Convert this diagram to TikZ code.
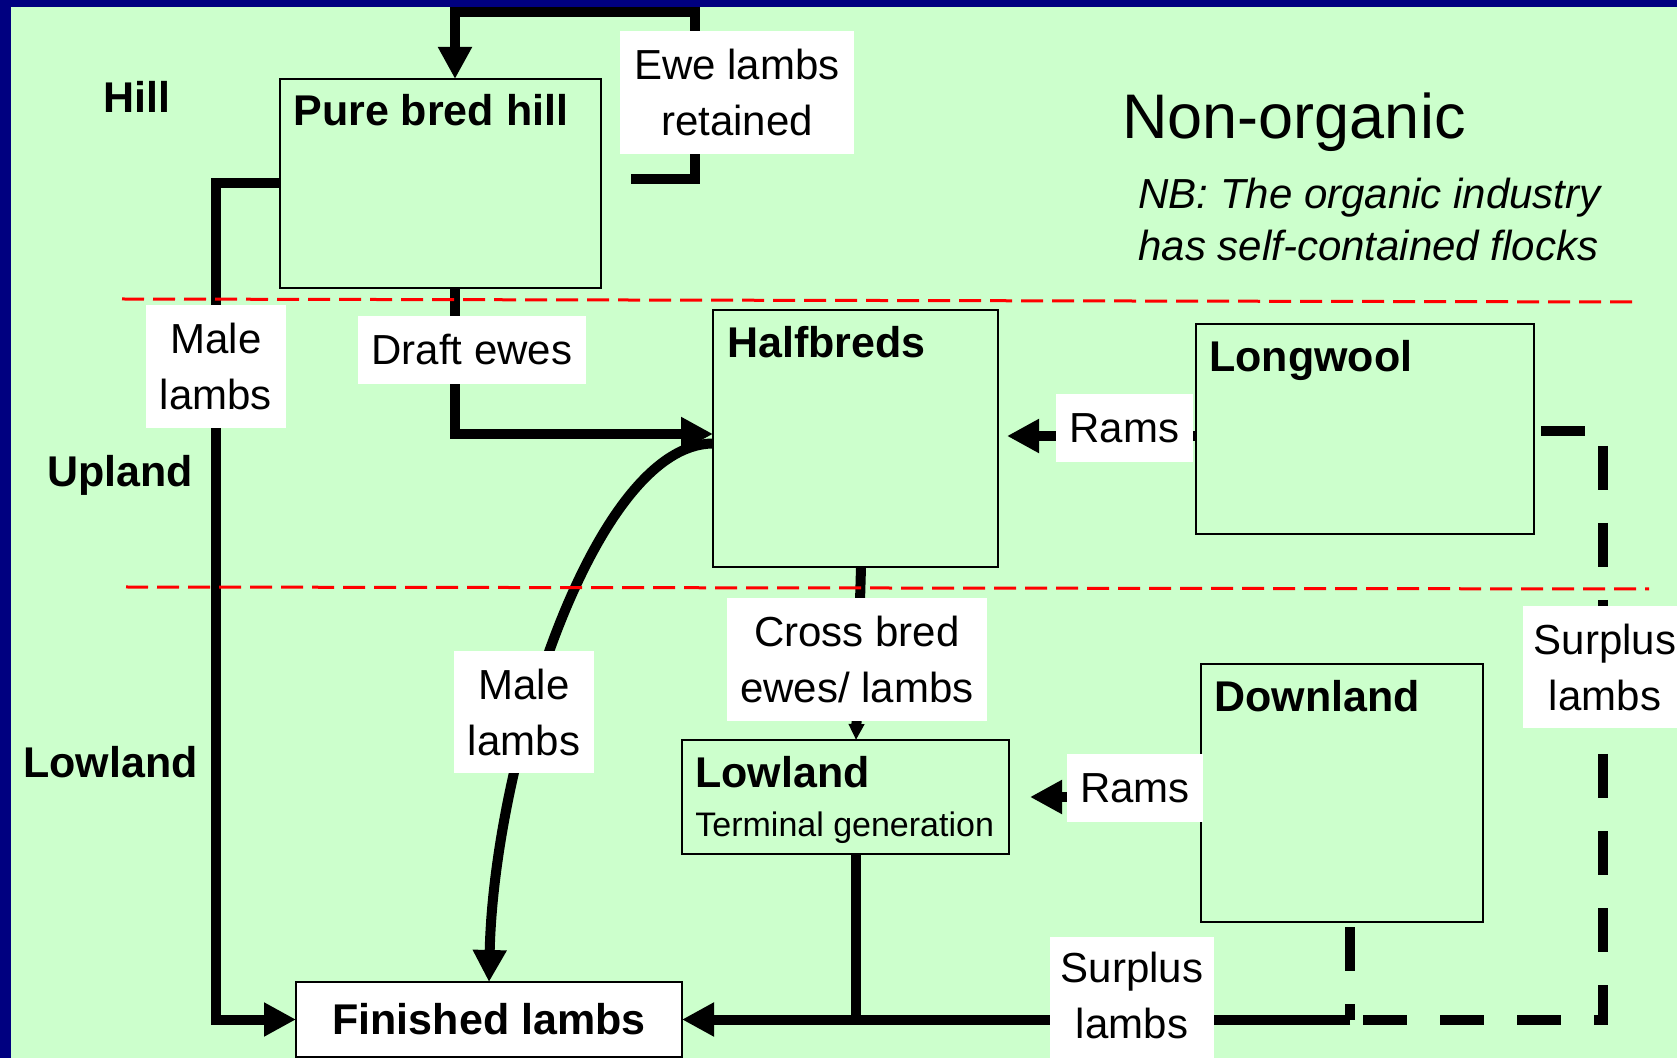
\documentclass[tikz,border=0pt]{standalone}
\usepackage{fontspec}
\setmainfont{Liberation Sans}
\usetikzlibrary{arrows.meta}
\definecolor{navy}{HTML}{000080}
\definecolor{bgreen}{HTML}{CCFFCC}
\tikzset{
 boxnode/.style={draw=black, line width=1.25pt, fill=bgreen, inner sep=0pt, outer sep=0pt, anchor=north west},
 tag/.style={fill=white, inner sep=0pt, outer sep=0pt, anchor=north west, align=center, font=\fontsize{21}{28}\selectfont},
 ttl/.style={anchor=base west, inner sep=0pt, font=\fontsize{21.5}{26}\selectfont\bfseries},
 flow/.style={line width=5pt, -{Triangle[length=16pt,width=16pt]}},
 thickline/.style={line width=5pt},
 dashflow/.style={line width=5pt, dash pattern=on 22pt off 16.5pt},
 zone/.style={draw=red, line width=1.5pt, dash pattern=on 11pt off 4.5pt},
}
\begin{document}
\begin{tikzpicture}[x=0.5pt,y=-0.5pt]
\useasboundingbox (0,0) rectangle (1677,1058);
\clip (0,0) rectangle (1677,1058);
\fill[navy] (0,0) rectangle (1677,1058);
\fill[bgreen] (11,7) rectangle (1677,1058);

% boxes
\node[boxnode, minimum width=160.5pt, minimum height=104.5pt] (hill) at (280,79) {};
\node[boxnode, minimum width=142.5pt, minimum height=128.5pt] (half) at (713,310) {};
\node[boxnode, minimum width=169pt, minimum height=105pt] (long) at (1196,324) {};
\node[boxnode, minimum width=163.5pt, minimum height=57pt] (low) at (682,740) {};
\node[boxnode, minimum width=141pt, minimum height=129pt] (down) at (1201,664) {};
\node[boxnode, fill=white, minimum width=193pt, minimum height=37.5pt, font=\fontsize{21.5}{26}\selectfont\bfseries] (fin) at (296,982) {Finished lambs};

% box titles
\node[ttl] (hillt) at ([shift={(13,47)}]hill.north west) {Pure bred hill};
\node[ttl] (halft) at ([shift={(14,48)}]half.north west) {Halfbreds};
\node[ttl] (longt) at ([shift={(13,48)}]long.north west) {Longwool};
\node[ttl] (lowt) at ([shift={(13,48)}]low.north west) {Lowland};
\node[anchor=base west, inner sep=0pt, font=\fontsize{17}{20}\selectfont] (term) at ([shift={(13,96)}]low.north west) {Terminal generation};
\node[ttl] (downt) at ([shift={(13,48)}]down.north west) {Downland};

% connectors
\coordinate (ewestart) at (631,179);
\draw[flow] (ewestart) -- ++(64,0) -- ++(0,-167) -| ([shift={(175,0)}]hill.north west);
\draw[flow] (hill.west) -| ([shift={(-80,0)}]fin.west) -- (fin.west);
\draw[flow] ([shift={(175,0)}]hill.south west) |- ([shift={(0,-4.5)}]half.west);
\draw[flow] ([shift={(0,5)}]half.west) .. controls (595,444) and (494,760) .. (fin.north);
\draw[line width=5pt, -{Triangle[length=8pt,width=7.5pt]}] ([shift={(5.5,0)}]half.south) -- ([shift={(10.5,0)}]low.north);

\coordinate (junction) at (1350,1019.5);
\coordinate (corner) at (1603,1019.5);
\draw[thickline] ([shift={(10.5,0)}]low.south) -- ([shift={(10.5,0)}]low.south |- fin.east);
\draw[flow] (junction) -- (fin.east);
\draw[dashflow] ([shift={(7,2)}]long.east) -| (corner) -- (junction);
\draw[dashflow] ([shift={(8,5)}]down.south) -- (junction);

\draw[flow] ([shift={(0,7)}]long.west) -- ([shift={(9,-2.5)}]half.east);
\draw[flow] ([shift={(0,4)}]down.west) -- ([shift={(21,0)}]low.east);

% zone boundaries
\draw[zone] (122,299) -- (1633,302);
\draw[zone] (126,587) -- (1649,589);

% labels
\node[tag, minimum width=117pt, minimum height=61.5pt] (ewe) at (620,31) {Ewe lambs\\retained};
\node[tag, minimum width=70pt, minimum height=61.5pt] (male1) at (146,305) {Male\\lambs};
\node[tag, minimum width=114pt, minimum height=34pt] (draft) at (358,316) {Draft ewes};
\node[tag, minimum width=68.5pt, minimum height=34pt] (rams1) at (1056,394) {Rams};
\node[tag, minimum width=70pt, minimum height=61pt] (male2) at (454,651) {Male\\lambs};
\node[tag, minimum width=130pt, minimum height=61.5pt] (cross) at (727,598) {Cross bred\\ewes/ lambs};
\node[tag, minimum width=68pt, minimum height=34pt] (rams2) at (1067,754) {Rams};
\node[tag, minimum width=82pt, minimum height=61pt] (surp1) at (1523,606) {Surplus\\lambs};
\node[tag, minimum width=82pt, minimum height=61.5pt, text depth=3.5pt] (surp2) at (1050,937) {Surplus\\lambs};

% zone names and title
\node[ttl] (hilllab) at (103,113) {Hill};
\node[ttl] (uplab) at (47,487) {Upland};
\node[ttl] (lowlab) at (23,777) {Lowland};
\node[anchor=base west, inner sep=0pt, font=\fontsize{31.5}{38}\selectfont] (title) at (1122,139) {Non-organic};
\node[anchor=base west, inner sep=0pt, font=\fontsize{21}{26}\selectfont\itshape] (nb1) at (1138,209) {NB: The organic industry};
\node[anchor=base west, inner sep=0pt, font=\fontsize{21}{26}\selectfont\itshape] (nb2) at (1138,261) {has self-contained flocks};
\end{tikzpicture}
\end{document}
